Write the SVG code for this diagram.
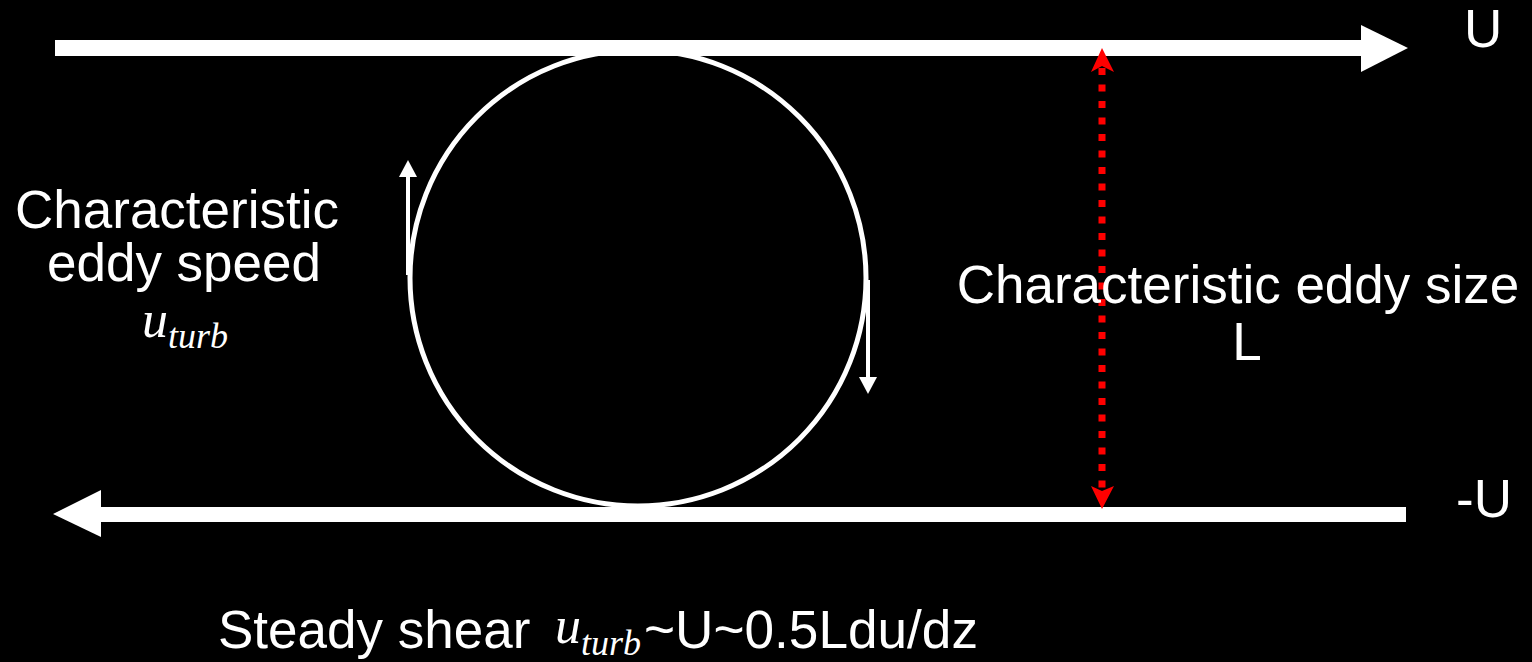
<svg xmlns="http://www.w3.org/2000/svg" width="1532" height="662" viewBox="0 0 1532 662">
<style>
.t{font-family:"Liberation Sans",Arial,sans-serif;font-size:53px;fill:#fff}
.m{font-family:"Liberation Serif","Times New Roman",serif;font-style:italic;fill:#fff}
.w{fill:#fff}
.ws{stroke:#fff;fill:none}
</style>
<rect width="1532" height="662" fill="#000"/>
<g id="connectors">
<g id="top-flow"><rect class="w" x="55" y="40" width="1307" height="16"/><polygon class="w" points="1361,25 1408,48 1361,72"/></g>
<g id="bottom-flow"><rect class="w" x="100" y="507" width="1306" height="15"/><polygon class="w" points="101,490 53,514 101,537"/></g>
<g id="eddy-up"><line class="ws" x1="408" y1="176" x2="408" y2="275" stroke-width="4"/><polygon class="w" points="399,177 408,160 417,177"/></g>
<g id="eddy-down"><line class="ws" x1="868" y1="280" x2="868" y2="378" stroke-width="4"/><polygon class="w" points="859,377 868,394 877,377"/></g>
<g id="size-arrow"><line x1="1102" y1="68" x2="1102" y2="490" stroke="#f00" stroke-width="7" stroke-dasharray="7 9.5"/><polygon fill="#f00" points="1102,48 1114,72 1102,66 1091,72"/><polygon fill="#f00" points="1102,509 1114,486 1102,491 1091,486"/></g>
</g>
<g id="eddy"><circle class="ws" cx="638" cy="278" r="228" stroke-width="5"/></g>
<g id="label-U"><text class="t" x="1464" y="47">U</text></g>
<g id="label-minusU"><text class="t" x="1456" y="517">-U</text></g>
<g id="label-speed">
<text class="t" x="177" y="228" text-anchor="middle">Characteristic</text>
<text class="t" x="184" y="281" text-anchor="middle">eddy speed</text>
<text class="m" x="142" y="337" font-size="52">u</text><text class="m" x="168" y="348" font-size="36">turb</text>
</g>
<g id="label-size">
<text class="t" x="1238" y="303" text-anchor="middle">Characteristic eddy size</text>
<text class="t" x="1247" y="360" text-anchor="middle">L</text>
</g>
<g id="label-shear">
<text class="t" x="218" y="648">Steady shear</text>
<text class="m" x="555" y="643" font-size="52">u</text><text class="m" x="581" y="655" font-size="36">turb</text>
<text class="t" x="644" y="648" textLength="334" lengthAdjust="spacingAndGlyphs">~U~0.5Ldu/dz</text>
</g>
</svg>
